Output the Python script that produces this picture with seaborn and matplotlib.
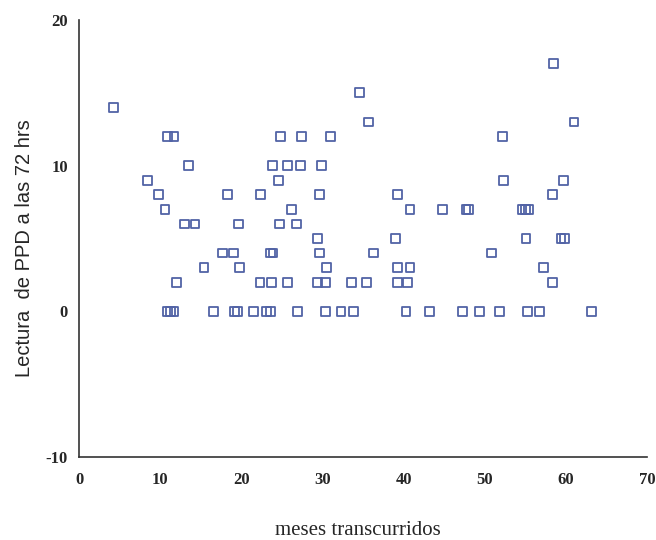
import matplotlib
matplotlib.use("Agg")
import matplotlib.pyplot as plt
import seaborn as sns
import pandas as pd

# Data (months elapsed, PPD reading at 72 hrs)
meses = [
    4.3, 10.9, 11.7, 13.5, 8.4, 9.8, 18.3, 10.6, 13.0, 14.3, 19.7, 17.7, 19.0,
    15.4, 19.8, 12.0, 10.9, 11.3, 11.7, 16.6, 19.2, 19.5,
    34.6, 35.7, 24.8, 27.4, 31.0, 23.8, 25.7, 27.3, 29.9, 24.6, 22.4, 29.6,
    39.3, 26.2, 24.7, 26.8, 29.4, 39.0, 23.6, 23.9, 29.6, 36.3, 30.5, 39.3,
    40.8, 22.3, 23.7, 25.7, 29.4, 30.4, 33.6, 35.4, 39.3, 40.5,
    21.5, 23.1, 23.6, 26.9, 30.4, 32.3, 33.8,
    52.2, 52.3, 58.4, 40.8, 44.8, 47.7, 48.0, 54.6, 55.0, 55.4, 55.1, 50.8,
    57.2, 58.4, 40.3, 43.2, 47.3, 49.4, 51.8, 55.3, 56.8,
    58.5, 61.0, 59.7, 59.4, 59.8, 63.2,
]
lectura = [
    14, 12, 12, 10, 9, 8, 8, 7, 6, 6, 6, 4, 4,
    3, 3, 2, 0, 0, 0, 0, 0, 0,
    15, 13, 12, 12, 12, 10, 10, 10, 10, 9, 8, 8,
    8, 7, 6, 6, 5, 5, 4, 4, 4, 4, 3, 3,
    3, 2, 2, 2, 2, 2, 2, 2, 2, 2,
    0, 0, 0, 0, 0, 0, 0,
    12, 9, 8, 7, 7, 7, 7, 7, 7, 7, 5, 4,
    3, 2, 0, 0, 0, 0, 0, 0, 0,
    17, 13, 9, 5, 5, 0,
]

x_ticks = [0, 10, 20, 30, 40, 50, 60, 70]
y_ticks = [-10, 0, 10, 20]

df = pd.DataFrame({"meses": meses, "lectura": lectura})

sns.set_style("white")
plt.rcParams["font.family"] = ["Liberation Serif", "DejaVu Serif"]

fig = plt.figure(figsize=(6.56, 5.40), dpi=100)
ax_l, ax_r, ax_t, ax_b = 79, 647, 20, 457
ax = fig.add_axes([ax_l / 656, 1 - ax_b / 540, (ax_r - ax_l) / 656, (ax_b - ax_t) / 540])

sns.scatterplot(
    data=df, x="meses", y="lectura", ax=ax,
    marker="s", s=40, facecolor="none", edgecolor="#5263a6",
    linewidth=1.3, legend=False,
)

ax.set_xlim(0, 70)
ax.set_ylim(-10, 20)
ax.set_xticks(x_ticks)
ax.set_yticks(y_ticks)
ax.set_xticklabels([str(t) for t in x_ticks], fontsize=12, fontweight="bold")
ax.set_yticklabels([str(t) for t in y_ticks], fontsize=12, fontweight="bold")

for side in ["top", "right"]:
    ax.spines[side].set_visible(False)
for side in ["left", "bottom"]:
    ax.spines[side].set_color("#333333")
    ax.spines[side].set_linewidth(1.2)

ax.tick_params(axis="y", direction="out", length=5, width=1.1, color="#333333", pad=3)
ax.tick_params(axis="x", direction="in", length=4, width=1.1, color="#333333", pad=11)

ax.set_xlabel("meses transcurridos", fontsize=15)
ax.xaxis.set_label_coords((358 - ax_l) / (ax_r - ax_l), -(521 - ax_b) / (ax_b - ax_t))
ax.set_ylabel("Lectura  de PPD a las 72 hrs", fontsize=14.5,
              family=["Liberation Sans", "DejaVu Sans"])
ax.yaxis.set_label_coords(-(ax_l - 34) / (ax_r - ax_l), (ax_b - 248) / (ax_b - ax_t))

fig.savefig("out.png", dpi=100)
